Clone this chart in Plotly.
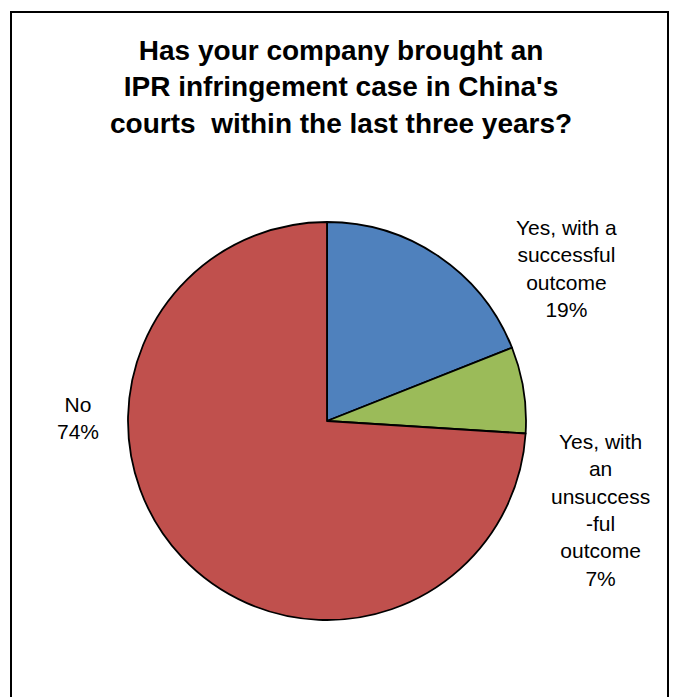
import plotly.graph_objects as go

labels = ["Yes, with a successful outcome", "Yes, with an unsuccessful outcome", "No"]
values = [19, 7, 74]
colors = ["#4F81BD", "#9BBB59", "#C0504D"]
label_texts = ["Yes, with a<br>successful<br>outcome<br>19%",
               "Yes, with<br>an<br>unsuccess<br>-ful<br>outcome<br>7%",
               "No<br>74%"]
title_text = "Has your company brought an<br>IPR infringement case in China's<br>courts  within the last three years?"

W, H = 673, 697
fig = go.Figure(go.Pie(
    labels=labels, values=values, sort=False, direction="clockwise", rotation=0,
    marker=dict(colors=colors, line=dict(color="black", width=1.8)),
    textinfo="none", hoverinfo="label+percent", showlegend=False,
    domain=dict(x=[128/W, 526/W], y=[(H-621)/H, (H-221)/H]),
))

label_pos = [(566, 214), (600, 428), (78, 391)]
for t, (x, y) in zip(label_texts, label_pos):
    fig.add_annotation(text=t, x=x/W, y=1-y/H, xref="paper", yref="paper",
                       xanchor="center", yanchor="top", showarrow=False, align="center",
                       font=dict(family="Liberation Sans, Arial", size=21, color="black"))

fig.add_annotation(text="<b>" + title_text + "</b>", x=341/W, y=1-33/H, xref="paper", yref="paper",
                   xanchor="center", yanchor="top", showarrow=False, align="center",
                   font=dict(family="Liberation Sans, Arial", size=28, color="black"))

fig.add_shape(type="rect", xref="paper", yref="paper", x0=11/W, x1=668/W, y0=-0.05, y1=1-12/H,
              line=dict(color="black", width=2), fillcolor="rgba(0,0,0,0)")

fig.update_layout(width=W, height=H, margin=dict(l=0, r=0, t=0, b=0),
                  paper_bgcolor="white", plot_bgcolor="white")
fig.write_html("out.html")
